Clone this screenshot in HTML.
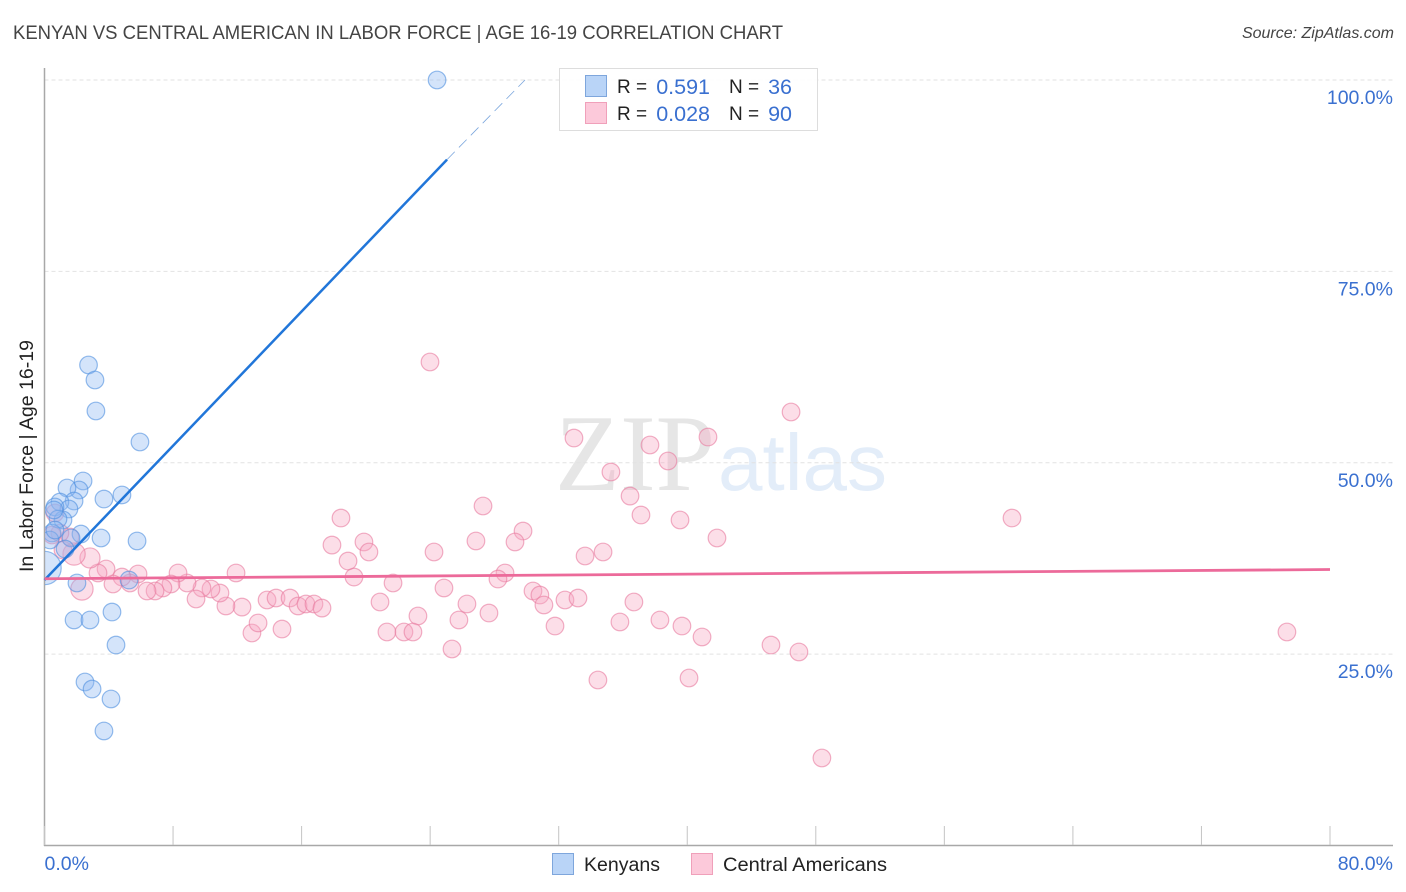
<!DOCTYPE html>
<html lang="en">
<head>
<meta charset="utf-8">
<title>Kenyan vs Central American in Labor Force | Age 16-19 Correlation Chart</title>
<style>
html,body{margin:0;padding:0;background:#fff;}
body{width:1406px;height:892px;overflow:hidden;}
svg{display:block;font-family:"Liberation Sans",sans-serif;}
</style>
</head>
<body>
<svg id="chart" width="1406" height="892" viewBox="0 0 1406 892" xmlns="http://www.w3.org/2000/svg">
  <defs>
    <clipPath id="plot-clip"><rect x="45" y="60" width="1350" height="786"/></clipPath>
  </defs>
  <rect x="0" y="0" width="1406" height="892" fill="#ffffff"/>
  <text x="13" y="39" font-size="19" fill="#444444" textLength="770" lengthAdjust="spacingAndGlyphs">KENYAN VS CENTRAL AMERICAN IN LABOR FORCE | AGE 16-19 CORRELATION CHART</text>
  <text x="1394" y="38" font-size="16" font-style="italic" fill="#444444" text-anchor="end">Source: ZipAtlas.com</text>

  <g>
    <text x="555" y="490" font-family="'Liberation Serif',serif" font-size="109" fill="#e6e6e6" textLength="160" lengthAdjust="spacingAndGlyphs">ZIP</text>
    <text x="718" y="490" font-size="80" fill="#e3edf9" textLength="169" lengthAdjust="spacingAndGlyphs">atlas</text>
  </g>

  <g id="grid"></g>
  <g id="axes"></g>
  <g id="points" clip-path="url(#plot-clip)"></g>
  <g id="trends"></g>

  <g>
    <rect x="559.5" y="68.5" width="258" height="62" fill="#ffffff" fill-opacity="0.9" stroke="#dddddd" stroke-width="1"/>
    <rect x="585.5" y="75.5" width="21" height="21" fill="#b9d4f7" stroke="#7ea6dc" stroke-width="1"/>
    <rect x="585.5" y="102.5" width="21" height="21" fill="#fcc9da" stroke="#f0a0ba" stroke-width="1"/>
    <text x="617" y="93" font-size="19" fill="#222222">R =</text>
    <text x="710" y="94" font-size="21.5" fill="#3a70d0" text-anchor="end">0.591</text>
    <text x="729" y="93" font-size="19" fill="#222222">N =</text>
    <text x="792" y="94" font-size="21.5" fill="#3a70d0" text-anchor="end">36</text>
    <text x="617" y="120" font-size="19" fill="#222222">R =</text>
    <text x="710" y="121" font-size="21.5" fill="#3a70d0" text-anchor="end">0.028</text>
    <text x="729" y="120" font-size="19" fill="#222222">N =</text>
    <text x="792" y="121" font-size="21.5" fill="#3a70d0" text-anchor="end">90</text>
  </g>

  <text transform="translate(33,456) rotate(-90)" font-size="19" fill="#222222" text-anchor="middle" textLength="232" lengthAdjust="spacingAndGlyphs">In Labor Force | Age 16-19</text>

  <g>
    <rect x="552.5" y="853.5" width="21" height="21" fill="#b9d4f7" stroke="#7ea6dc" stroke-width="1"/>
    <text x="584" y="871" font-size="19" fill="#222222" textLength="76" lengthAdjust="spacingAndGlyphs">Kenyans</text>
    <rect x="691.5" y="853.5" width="21" height="21" fill="#fcc9da" stroke="#f0a0ba" stroke-width="1"/>
    <text x="723" y="871" font-size="19" fill="#222222" textLength="164" lengthAdjust="spacingAndGlyphs">Central Americans</text>
  </g>
</svg>
<script>
// Axis tick values and labels
const yGridValues = [100, 75, 50, 25];
const yTickLabels = ["100.0%", "75.0%", "50.0%", "25.0%"];
const xTickValues = [0, 8, 16, 24, 32, 40, 48, 56, 64, 72, 80];
const xEdgeValues = [0, 80];
const xEdgeLabels = ["0.0%", "80.0%"];

// Kenyans series: x %, y %, relative sample weight
const kenyanX = [24.43, 2.74, 3.14, 3.20, 5.94, 2.40, 2.15, 1.40, 1.84, 0.96, 3.70, 4.82, 1.52, 0.65, 1.15, 0.84, 2.27, 1.65, 3.52, 5.76, 0.47, 0.34, 1.28, 0.00, 2.02, 5.26, 4.20, 1.84, 2.83, 4.45, 2.52, 2.96, 4.14, 3.70, 0.59, 0.65];
const kenyanY = [100.0, 62.77, 60.81, 56.76, 52.71, 47.62, 46.44, 46.70, 45.00, 44.87, 45.26, 45.79, 43.96, 44.22, 42.52, 42.65, 40.69, 40.17, 40.17, 39.78, 40.82, 39.91, 38.73, 36.25, 34.29, 34.68, 30.50, 29.46, 29.46, 26.19, 21.36, 20.44, 19.14, 14.96, 43.83, 41.21];
const kenyanWeight = [1, 1, 1, 1, 1, 1, 1, 1, 1, 1, 1, 1, 1, 1, 1, 1, 1, 1, 1, 1, 1, 1, 1, 3.6, 1, 1, 1, 1, 1, 1, 1, 1, 1, 1, 1, 1];

// Central Americans series: x %, y %, relative sample weight
const centralX = [23.99, 46.46, 32.95, 41.29, 37.68, 38.80, 35.25, 36.44, 27.29, 37.12, 39.55, 18.45, 29.78, 41.85, 60.21, 17.89, 19.88, 26.85, 29.28, 20.19, 24.24, 33.64, 34.76, 18.89, 19.26, 28.66, 28.22, 21.69, 24.86, 30.40, 30.83, 31.08, 32.39, 33.20, 36.68, 26.29, 20.88, 27.66, 23.24, 25.79, 35.81, 38.30, 39.67, 31.77, 40.92, 21.31, 22.37, 22.93, 25.36, 45.21, 46.95, 34.44, 40.11, 48.38, 77.32, 12.91, 14.78, 13.29, 13.85, 14.41, 15.28, 15.78, 16.27, 16.77, 17.27, 12.29, 11.29, 10.92, 10.36, 9.80, 9.43, 8.87, 8.31, 11.92, 7.87, 7.37, 6.88, 6.38, 5.82, 5.32, 4.82, 4.26, 3.83, 3.33, 2.83, 2.33, 1.84, 1.15, 1.59, 0.96, 0.47, 0.65];
const centralY = [63.16, 56.63, 53.23, 53.36, 52.32, 50.23, 48.79, 45.65, 44.35, 43.17, 42.52, 42.78, 41.08, 40.17, 42.78, 39.25, 39.65, 39.78, 39.65, 38.34, 38.34, 37.82, 38.34, 37.16, 35.07, 35.60, 34.81, 34.29, 33.64, 33.25, 32.72, 31.42, 32.07, 32.33, 31.81, 31.55, 31.81, 30.37, 29.98, 29.46, 29.20, 29.46, 28.67, 28.67, 27.24, 27.89, 27.89, 27.89, 25.67, 26.19, 25.28, 21.62, 21.88, 11.43, 27.89, 27.76, 28.28, 29.07, 32.07, 32.33, 32.33, 31.29, 31.55, 31.55, 31.02, 31.15, 31.29, 32.98, 33.51, 33.64, 32.20, 34.29, 35.60, 35.60, 34.16, 33.64, 33.25, 33.25, 35.47, 34.29, 35.07, 34.16, 36.12, 35.60, 37.56, 33.51, 38.08, 38.60, 40.30, 40.82, 40.56, 43.44];
const centralWeight = [1, 1, 1, 1, 1, 1, 1, 1, 1, 1, 1, 1, 1, 1, 1, 1, 1, 1, 1, 1, 1, 1, 1, 1, 1, 1, 1, 1, 1, 1, 1, 1, 1, 1, 1, 1, 1, 1, 1, 1, 1, 1, 1, 1, 1, 1, 1, 1, 1, 1, 1, 1, 1, 1, 1, 1, 1, 1, 1, 1, 1, 1, 1, 1, 1, 1, 1, 1, 1, 1, 1, 1, 1, 1, 1, 1, 1, 1, 1, 1, 1, 1, 1, 1, 1.3, 1.6, 1.6, 1, 1, 1, 1, 1];

// Trend lines: x % and y % at endpoints
const kenyanTrendX = [0, 25.05];
const kenyanTrendY = [34.68, 89.6];
const kenyanTrendExtX = [25.05, 29.9];
const kenyanTrendExtY = [89.6, 100];
const centralTrendX = [0, 80];
const centralTrendY = [34.85, 36.05];

const NS = "http://www.w3.org/2000/svg";
const sx = v => 44.5 + v * (1285.5 / 80);
const sy = v => 845.5 - v * 7.655;
const radius = w => 8.8 * Math.sqrt(w);
const mk = (parent, tag, attrs) => {
  const el = document.createElementNS(NS, tag);
  for (const k in attrs) el.setAttribute(k, attrs[k]);
  parent.appendChild(el);
  return el;
};

const grid = document.getElementById("grid");
const axes = document.getElementById("axes");
const points = document.getElementById("points");
const trends = document.getElementById("trends");

yGridValues.forEach((v, i) => {
  const line = mk(grid, "line", {x1: 44.5, x2: 1393, y1: sy(v), y2: sy(v), stroke: "#e2e2e2", "stroke-width": 1, "stroke-dasharray": "4 3"});
  
  
  const label = mk(axes, "text", {x: 1393, y: sy(v) + 24, "font-size": 19.5, fill: "#3a70d0", "text-anchor": "end"});
  label.textContent = yTickLabels[i];
  
  
});

const yAxisLine = mk(axes, "line", {x1: 44.5, x2: 44.5, y1: 68, y2: 846, stroke: "#a8a8a8", "stroke-width": 1.5});


const xAxisLine = mk(axes, "line", {x1: 44, x2: 1393, y1: 845.5, y2: 845.5, stroke: "#a8a8a8", "stroke-width": 1.5});



xTickValues.forEach(v => {
  const tick = mk(axes, "line", {x1: sx(v), x2: sx(v), y1: 826, y2: 845, stroke: "#c4c4c4", "stroke-width": 1});
  
  
});

xEdgeValues.forEach((v, i) => {
  const label = mk(axes, "text", {x: i === 0 ? sx(v) : 1393, y: 870, "font-size": 19.5, fill: "#3a70d0", "text-anchor": i === 0 ? "start" : "end"});
  label.textContent = xEdgeLabels[i];
  
  
});

centralX.forEach((x, i) => {
  const dot = mk(points, "circle", {cx: sx(x), cy: sy(centralY[i]), r: radius(centralWeight[i]), fill: "#f8a8c2", "fill-opacity": 0.38, stroke: "#e77a9f", "stroke-opacity": 0.6, "stroke-width": 1.2});
  
  
});

kenyanX.forEach((x, i) => {
  const dot = mk(points, "circle", {cx: sx(x), cy: sy(kenyanY[i]), r: radius(kenyanWeight[i]), fill: "#8db8f2", "fill-opacity": 0.38, stroke: "#4f8fe0", "stroke-opacity": 0.6, "stroke-width": 1.2});
  
  
});

const kenyanTrend = mk(trends, "line", {x1: sx(kenyanTrendX[0]), y1: sy(kenyanTrendY[0]), x2: sx(kenyanTrendX[1]), y2: sy(kenyanTrendY[1]), stroke: "#2176d9", "stroke-width": 2.5});


const kenyanExt = mk(trends, "line", {x1: sx(kenyanTrendExtX[0]), y1: sy(kenyanTrendExtY[0]), x2: sx(kenyanTrendExtX[1]), y2: sy(kenyanTrendExtY[1]), stroke: "#7ba6dd", "stroke-width": 0.8, "stroke-dasharray": "11 6"});


const centralTrend = mk(trends, "line", {x1: sx(centralTrendX[0]), y1: sy(centralTrendY[0]), x2: sx(centralTrendX[1]), y2: sy(centralTrendY[1]), stroke: "#ec6a9a", "stroke-width": 2.8});


</script>
</body>
</html>
